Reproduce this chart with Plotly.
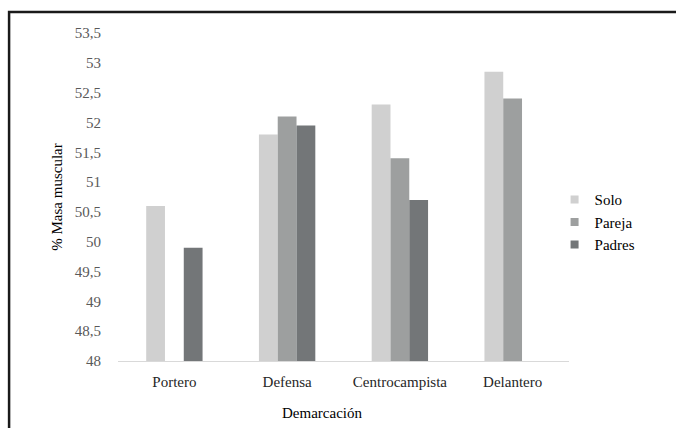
import plotly.graph_objects as go

categories = ["Portero", "Defensa", "Centrocampista", "Delantero"]
solo = [50.6, 51.8, 52.3, 52.85]
pareja = [None, 52.1, 51.4, 52.4]
padres = [49.9, 51.95, 50.7, None]
series_names = ["Solo", "Pareja", "Padres"]
series_colors = ["#d0d0d0", "#9d9f9f", "#737678"]
y_ticks = [48, 48.5, 49, 49.5, 50, 50.5, 51, 51.5, 52, 52.5, 53, 53.5]
y_tick_text = [f"{v:g}".replace(".", ",") for v in y_ticks]

FONT = "Liberation Serif"

fig = go.Figure()
for name, vals, col in zip(series_names, [solo, pareja, padres], series_colors):
    fig.add_trace(go.Bar(name=name, x=categories, y=vals, showlegend=False,
                         marker=dict(color=col, line=dict(width=0))))
# legend entries with small square keys
for name, col in zip(series_names, series_colors):
    fig.add_trace(go.Scatter(name=name, x=[None], y=[None], mode="markers",
                             marker=dict(symbol="square", size=8, color=col),
                             showlegend=True, hoverinfo="skip"))

fig.update_layout(
    width=676, height=428,
    margin=dict(l=118, r=107, t=33, b=67),
    paper_bgcolor="white", plot_bgcolor="white",
    barmode="group", bargap=0.5, bargroupgap=0,
    font=dict(family=FONT, size=15, color="#262626"),
    showlegend=True,
    legend=dict(x=0.968, xanchor="left", y=0.423, yanchor="middle",
                font=dict(family=FONT, size=15, color="#000000"),
                bgcolor="rgba(0,0,0,0)", tracegroupgap=0, itemwidth=30),
    xaxis=dict(showline=True, linecolor="#d9d9d9", linewidth=1, showgrid=False,
               ticks="outside", ticklen=7, tickcolor="rgba(0,0,0,0)",
               tickfont=dict(family=FONT, size=15, color="#262626")),
    yaxis=dict(range=[48, 53.5], tickvals=y_ticks, ticktext=y_tick_text,
               showgrid=False, showline=False, zeroline=False,
               ticks="outside", ticklen=13, tickcolor="rgba(0,0,0,0)",
               tickfont=dict(family=FONT, size=15, color="#595959"),
               title=dict(text="% Masa muscular", standoff=8,
                          font=dict(family=FONT, size=15, color="#000000"))),
    annotations=[dict(text="Demarcación", xref="paper", yref="paper",
                      x=0.452, y=-0.158, xanchor="center", yanchor="middle",
                      showarrow=False, font=dict(family=FONT, size=15, color="#000000"))],
    shapes=[dict(type="rect", xref="paper", yref="paper",
                 x0=-0.2415, y0=-0.5, x1=1.6, y1=1.064,
                 line=dict(color="#1a1a1a", width=2.5), fillcolor="rgba(0,0,0,0)", layer="above")],
)

fig.write_html("out.html", config={"displayModeBar": False},
               post_script="document.body.style.margin='0px';document.body.style.overflow='hidden';")
